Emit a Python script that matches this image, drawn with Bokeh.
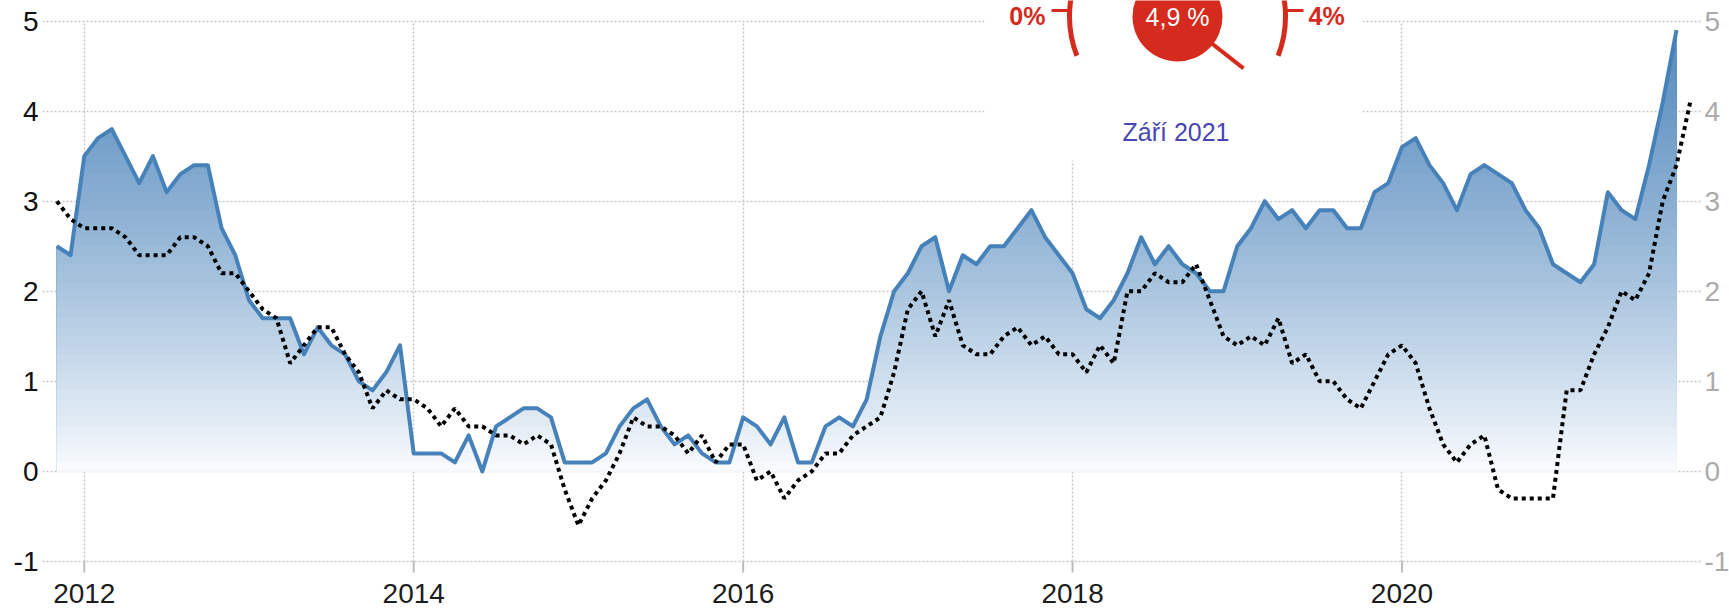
import numpy as np
import pandas as pd
from bokeh.plotting import figure
from bokeh.models import FixedTicker
from bokeh.core.properties import value
from bokeh.embed import file_html
from bokeh.resources import INLINE

# ---------------- data ----------------
cz_start = "2011-11"
cz_cpi = [2.5, 2.4,
          3.5, 3.7, 3.8, 3.5, 3.2, 3.5, 3.1, 3.3, 3.4, 3.4, 2.7, 2.4,
          1.9, 1.7, 1.7, 1.7, 1.3, 1.6, 1.4, 1.3, 1.0, 0.9, 1.1, 1.4,
          0.2, 0.2, 0.2, 0.1, 0.4, 0.0, 0.5, 0.6, 0.7, 0.7, 0.6, 0.1,
          0.1, 0.1, 0.2, 0.5, 0.7, 0.8, 0.5, 0.3, 0.4, 0.2, 0.1, 0.1,
          0.6, 0.5, 0.3, 0.6, 0.1, 0.1, 0.5, 0.6, 0.5, 0.8, 1.5, 2.0,
          2.2, 2.5, 2.6, 2.0, 2.4, 2.3, 2.5, 2.5, 2.7, 2.9, 2.6, 2.4,
          2.2, 1.8, 1.7, 1.9, 2.2, 2.6, 2.3, 2.5, 2.3, 2.2, 2.0, 2.0,
          2.5, 2.7, 3.0, 2.8, 2.9, 2.7, 2.9, 2.9, 2.7, 2.7, 3.1, 3.2,
          3.6, 3.7, 3.4, 3.2, 2.9, 3.3, 3.4, 3.3, 3.2, 2.9, 2.7, 2.3,
          2.2, 2.1, 2.3, 3.1, 2.9, 2.8, 3.4, 4.1, 4.9]

ez_start = "2011-11"
ez_cpi = [3.0, 2.8,
          2.7, 2.7, 2.7, 2.6, 2.4, 2.4, 2.4, 2.6, 2.6, 2.5, 2.2, 2.2,
          2.0, 1.8, 1.7, 1.2, 1.4, 1.6, 1.6, 1.3, 1.1, 0.7, 0.9, 0.8,
          0.8, 0.7, 0.5, 0.7, 0.5, 0.5, 0.4, 0.4, 0.3, 0.4, 0.3, -0.2,
          -0.6, -0.3, -0.1, 0.2, 0.6, 0.5, 0.5, 0.4, 0.2, 0.4, 0.1, 0.3,
          0.3, -0.1, 0.0, -0.3, -0.1, 0.0, 0.2, 0.2, 0.4, 0.5, 0.6, 1.1,
          1.8, 2.0, 1.5, 1.9, 1.4, 1.3, 1.3, 1.5, 1.6, 1.4, 1.5, 1.3,
          1.3, 1.1, 1.4, 1.2, 2.0, 2.0, 2.2, 2.1, 2.1, 2.3, 1.9, 1.5,
          1.4, 1.5, 1.4, 1.7, 1.2, 1.3, 1.0, 1.0, 0.8, 0.7, 1.0, 1.3,
          1.4, 1.2, 0.7, 0.3, 0.1, 0.3, 0.4, -0.2, -0.3, -0.3, -0.3, -0.3,
          0.9, 0.9, 1.3, 1.6, 2.0, 1.9, 2.2, 3.0, 3.4, 4.1]

year_ticks = [2012, 2014, 2016, 2018, 2020]
year_labels = ["2012", "2014", "2016", "2018", "2020"]
y_ticks = [-1, 0, 1, 2, 3, 4, 5]
y_labels = ["-1", "0", "1", "2", "3", "4", "5"]

gauge_value = "4,9 %"
gauge_low = "0%"
gauge_high = "4%"
gauge_period = "Září 2021"


def dec_years(start, n):
    per = pd.period_range(start, periods=n, freq="M")
    return np.array([p.year + (p.month - 1) / 12.0 for p in per])


x_cz = dec_years(cz_start, len(cz_cpi))
x_ez = dec_years(ez_start, len(ez_cpi))

# ---------------- pixel -> data helpers (canvas pixels) ----------------
PX_2012, PX_PER_YEAR = 83.8, 164.71
PY_M1, PX_PER_UNIT = 561.0, 90.083
W, H, LEFT = 1729, 611, 42


def xd(px):
    return 2012 + (px - PX_2012) / PX_PER_YEAR


def yd(py):
    return -1 + (PY_M1 - py) / PX_PER_UNIT


FONT = value("Liberation Sans")
RED = "#d52b1e"
BLUE = "#4682b9"
GRID = "#c4c4c4"

p = figure(width=W, height=H,
           x_range=(xd(LEFT), xd(W)), y_range=(yd(H), yd(0)),
           x_axis_location=None,
           min_border_left=LEFT, min_border_right=0,
           min_border_top=0, min_border_bottom=0,
           toolbar_location=None, output_backend="svg",
           background_fill_color="white", border_fill_color="white")
p.outline_line_color = None

# grid
p.xgrid.ticker = FixedTicker(ticks=year_ticks)
p.xgrid.cross_bounds = (-1, 5)
p.ygrid.ticker = FixedTicker(ticks=y_ticks)
p.ygrid.cross_bounds = (xd(LEFT), xd(1700))
for g in (p.xgrid, p.ygrid):
    g.grid_line_color = GRID
    g.grid_line_dash = "2 2"
    g.grid_line_width = 1.4

# left axis
ya = p.yaxis[0]
ya.ticker = FixedTicker(ticks=y_ticks)
ya.major_label_overrides = {t: s for t, s in zip(y_ticks, y_labels)}
ya.axis_line_color = None
ya.major_tick_line_color = None
ya.minor_tick_line_color = None
ya.major_tick_out = 0
ya.major_tick_in = 0
ya.minor_tick_out = 0
ya.minor_tick_in = 0
ya.major_label_standoff = 4
ya.major_label_text_font = "Liberation Sans"
ya.major_label_text_font_size = "28px"
ya.major_label_text_color = "#111111"

# white panel behind the gauge
p.quad(left=[xd(984)], right=[xd(1362)], bottom=[yd(160)], top=[yd(-5)],
       fill_color="white", line_color=None)

# gradient area under the CZ line
levels = [round(v, 2) for v in np.arange(0.1, 5.001, 0.1)]


def densify(xs, ys, lv):
    ox, oy = [xs[0]], [ys[0]]
    for i in range(len(xs) - 1):
        x0, y0, x1, y1 = xs[i], ys[i], xs[i + 1], ys[i + 1]
        if y1 != y0:
            lo, hi = min(y0, y1), max(y0, y1)
            cr = sorted([L for L in lv if lo < L < hi], reverse=(y1 < y0))
            for L in cr:
                t = (L - y0) / (y1 - y0)
                ox.append(x0 + t * (x1 - x0))
                oy.append(L)
        ox.append(x1)
        oy.append(y1)
    return np.array(ox), np.array(oy)


gx, gy = densify(list(x_cz), list(cz_cpi), levels)

stop_v = [0, 0.5, 1, 2, 3, 4, 5]
stop_rgb = [(250, 252, 254), (228, 236, 245), (208, 223, 238), (170, 197, 223),
            (137, 174, 210), (108, 154, 198), (85, 137, 189)]


def grad(v):
    c = [int(round(np.interp(v, stop_v, [s[k] for s in stop_rgb]))) for k in range(3)]
    return "#%02x%02x%02x" % tuple(c)


for L in reversed(levels):
    p.varea(x=gx, y1=np.zeros_like(gy), y2=np.minimum(gy, L),
            fill_color=grad(L - 0.05), fill_alpha=1.0)

# lines
p.line(x_cz, cz_cpi, line_color=BLUE, line_width=4, line_join="round")
p.line(x_ez, ez_cpi, line_color="black", line_width=4, line_dash="4 4")

# x ticks and labels
p.ray(x=year_ticks, y=[-1] * len(year_ticks), length=11, length_units="screen",
      angle=-90, angle_units="deg", line_color="#bdbdbd", line_width=2)
p.text(x=year_ticks, y=[-1] * len(year_ticks), text=year_labels,
       text_font=FONT, text_font_size=value("28px"), text_color="#1c1c1c",
       text_align="center", text_baseline="top", y_offset=22)

# right labels
p.text(x=[xd(1700)] * len(y_ticks), y=y_ticks, text=y_labels,
       text_font=FONT, text_font_size=value("28px"), text_color="#ababab",
       text_align="left", text_baseline="middle", x_offset=4)

# gauge
CX, CY = xd(1177), yd(16)
p.arc(x=[CX, CX], y=[CY, CY], radius=108, radius_units="screen",
      start_angle=[150, -21.3], end_angle=[201.3, 30], start_angle_units="deg",
      end_angle_units="deg", line_color=RED, line_width=5)
p.segment(x0=[xd(1051), xd(1284)], y0=[yd(10), yd(10)],
          x1=[xd(1070), xd(1303)], y1=[yd(10), yd(10)],
          line_color=RED, line_width=3)
p.ray(x=[CX], y=[CY], length=84, length_units="screen", angle=-38.2,
      angle_units="deg", line_color=RED, line_width=4)
p.scatter(x=[CX], y=[CY], size=90, marker="circle", fill_color=RED, line_color=None)
p.text(x=[CX], y=[yd(16)], text=[gauge_value], text_font=FONT,
       text_font_size=value("25px"), text_color="white",
       text_align="center", text_baseline="middle")
p.text(x=[xd(1045)], y=[yd(15)], text=[gauge_low], text_font=FONT,
       text_font_size=value("25px"), text_font_style="bold", text_color=RED,
       text_align="right", text_baseline="middle")
p.text(x=[xd(1308)], y=[yd(15)], text=[gauge_high], text_font=FONT,
       text_font_size=value("25px"), text_font_style="bold", text_color=RED,
       text_align="left", text_baseline="middle")
p.text(x=[xd(1175.5)], y=[yd(131)], text=[gauge_period], text_font=FONT,
       text_font_size=value("25px"), text_color="#4646b4",
       text_align="center", text_baseline="middle")

open("out.html", "w").write(file_html(p, INLINE))
